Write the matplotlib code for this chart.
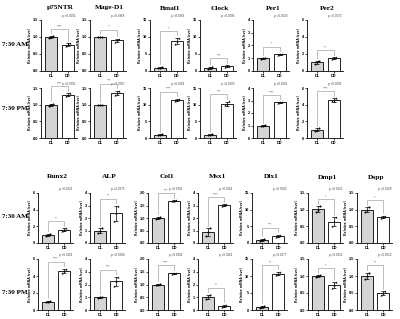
import numpy as np
import matplotlib
matplotlib.use("Agg")
import matplotlib.pyplot as plt

# ---------------- data ----------------
genes_top = ["p75NTR", "Mage-D1", "Bmal1", "Clock", "Per1", "Per2"]
genes_bottom = ["Runx2", "ALP", "Col1", "Msx1", "Dlx1", "Dmp1", "Dspp"]
group_labels = ["DL", "DD"]
row_labels = ["7:30 AM", "7:30 PM"]

ymax_top = [1.5, 1.5, 15, 15, 4, 6]
ystep_top = [0.5, 0.5, 5, 5, 1, 2]
ymax_bottom = [6, 4, 2.0, 4, 15, 1.5, 1.5]
ystep_bottom = [2, 1, 0.5, 1, 5, 0.5, 0.5]

# replicate values (DL, DD) for each gene
top_am_dl = [[0.97, 1.00, 1.03], [0.99, 1.00, 1.01], [0.8, 1.0, 1.2], [0.7, 0.9, 1.1], [0.95, 1.0, 1.05], [0.85, 1.0, 1.2]]
top_am_dd = [[0.74, 0.78, 0.81], [0.86, 0.90, 0.94], [8.0, 8.8, 9.7], [1.3, 1.5, 1.6], [1.25, 1.3, 1.35], [1.4, 1.5, 1.6]]
top_pm_dl = [[0.97, 1.0, 1.03], [1.0, 1.0, 1.0], [0.8, 1.0, 1.2], [0.8, 1.0, 1.2], [0.97, 1.0, 1.03], [0.85, 1.0, 1.2]]
top_pm_dd = [[1.27, 1.3, 1.34], [1.28, 1.35, 1.42], [11.2, 11.5, 11.8], [9.9, 10.1, 11.0], [2.78, 2.85, 2.9], [4.4, 4.45, 4.8]]
bot_am_dl = [[0.9, 1.0, 1.1], [0.8, 1.0, 1.2], [0.95, 1.0, 1.05], [0.6, 0.9, 1.2], [0.7, 1.0, 1.3], [0.92, 1.0, 1.1], [0.93, 1.0, 1.07]]
bot_am_dd = [[1.4, 1.6, 1.8], [1.8, 2.4, 3.0], [1.68, 1.7, 1.72], [3.0, 3.05, 3.1], [1.9, 2.2, 2.5], [0.5, 0.65, 0.78], [0.74, 0.78, 0.82]]
bot_pm_dl = [[0.9, 1.0, 1.1], [0.97, 1.0, 1.03], [0.97, 1.0, 1.03], [0.85, 1.0, 1.2], [0.7, 1.0, 1.3], [0.98, 1.0, 1.02], [0.9, 1.0, 1.1]]
bot_pm_dd = [[4.4, 4.6, 4.85], [1.9, 2.25, 2.6], [1.43, 1.45, 1.47], [0.2, 0.3, 0.4], [10.2, 10.7, 11.2], [0.65, 0.73, 0.82], [0.45, 0.5, 0.55]]

sig_top_am = ["****", "*", "*", "***", "*", "**"]
sig_top_pm = ["****", "***", "****", "***", "****", "****"]
sig_bot_am = ["**", "**", "***", "****", "***", "*", "*"]
sig_bot_pm = ["****", "***", "****", "**", "**", "*", "**"]
p_top_am = ["p <0.0001", "p =0.0366", "p =0.0166", "p =0.0006", "p =0.0130", "p =0.0072"]
p_top_pm = ["p <0.0001", "p =0.0007", "p <0.0001", "p =0.0003", "p <0.0001", "p <0.0001"]
p_bot_am = ["p =0.0021", "p =0.0075", "p =0.0001", "p <0.0001", "p =0.0003", "p =0.0122", "p =0.0228"]
p_bot_pm = ["p <0.0001", "p =0.0004", "p <0.0001", "p =0.0061", "p =0.0077", "p =0.0151", "p =0.0013"]

# ---------------- layout ----------------
W, H = 400, 319
fig = plt.figure(figsize=(4.0, 3.19), dpi=100)

SERIF = "Liberation Serif"
SANS = "Liberation Sans"

def frac_rect(left_px, zero_px, top_px, width_px):
    return [left_px / W, 1 - zero_px / H, width_px / W, (zero_px - top_px) / H]

def panel(rect, dl, dd, ymax, ystep, sig, ptxt):
    ax = fig.add_axes(rect)
    ax.patch.set_alpha(0)
    x = np.array([0, 1])
    means = [np.mean(dl), np.mean(dd)]
    sds = [np.std(dl, ddof=1), np.std(dd, ddof=1)]
    ax.bar(x, means, width=0.74, color=["#d4d4d4", "white"], edgecolor="black", linewidth=0.6, zorder=2)
    ax.errorbar(x, means, yerr=sds, fmt="none", ecolor="black", elinewidth=0.5, capsize=1.2, capthick=0.5, zorder=3)
    offs = [-0.12, 0.0, 0.12]
    for i, vals in enumerate([dl, dd]):
        ax.scatter(x[i] + np.array(offs), vals, s=2.2, color="black",
                   marker="o" if i == 0 else "^", zorder=4, linewidths=0)
    ax.set_xlim(-0.62, 1.55)
    ax.set_ylim(0, ymax)
    ticks = np.arange(0, ymax + ystep / 2, ystep)
    ax.set_yticks(ticks)
    if ystep < 1:
        ax.set_yticklabels([f"{t:.1f}" for t in ticks])
    else:
        ax.set_yticklabels([f"{int(t)}" for t in ticks])
    ax.set_xticks(x)
    ax.set_xticklabels(group_labels)
    for s in ["top", "right"]:
        ax.spines[s].set_visible(False)
    for s in ["left", "bottom"]:
        ax.spines[s].set_linewidth(0.6)
    ax.tick_params(axis="both", length=1.3, width=0.5, pad=0.8, labelsize=2.8)
    for lab in ax.get_xticklabels() + ax.get_yticklabels():
        lab.set_fontfamily(SANS)
        lab.set_fontweight("bold")
    ax.set_ylabel("Relative mRNA level", fontsize=2.5, fontweight="bold", family=SANS, labelpad=0.8)
    # bracket
    top = max(max(dl), max(dd))
    by = top + 0.14 * ymax
    ax.plot([0, 0, 1, 1], [max(dl) + 0.05 * ymax, by, by, max(dd) + 0.05 * ymax],
            color="#999999", lw=0.45, zorder=5, clip_on=False)
    ax.text(0.5, by + 0.01 * ymax, sig, ha="center", va="bottom", fontsize=2.6,
            color="#555555", family=SANS)
    ax.text(0.78, 1.04, ptxt, transform=ax.transAxes, ha="center", va="bottom",
            fontsize=2.2, color="#444444", family=SANS)
    return ax

top_lefts = [41, 90, 150, 200, 253, 307]
top_width = 36
bot_lefts = [38, 90, 148, 198, 252, 308, 357]
bot_width = 35

# top section
for j, g in enumerate(genes_top):
    panel(frac_rect(top_lefts[j], 71, 20, top_width), top_am_dl[j], top_am_dd[j],
          ymax_top[j], ystep_top[j], sig_top_am[j], p_top_am[j])
    panel(frac_rect(top_lefts[j], 138, 88, top_width), top_pm_dl[j], top_pm_dd[j],
          ymax_top[j], ystep_top[j], sig_top_pm[j], p_top_pm[j])
    cx = (top_lefts[j] + top_width * 0.55) / W
    fig.text(cx, 1 - 8 / H, g, ha="center", va="center", fontsize=5.3,
             fontweight="bold", family=SERIF)

for j, g in enumerate(genes_bottom):
    panel(frac_rect(bot_lefts[j], 243, 193, bot_width), bot_am_dl[j], bot_am_dd[j],
          ymax_bottom[j], ystep_bottom[j], sig_bot_am[j], p_bot_am[j])
    panel(frac_rect(bot_lefts[j], 310, 259, bot_width), bot_pm_dl[j], bot_pm_dd[j],
          ymax_bottom[j], ystep_bottom[j], sig_bot_pm[j], p_bot_pm[j])
    cx = (bot_lefts[j] + bot_width * 0.55) / W
    fig.text(cx, 1 - 177 / H, g, ha="center", va="center", fontsize=5.3,
             fontweight="bold", family=SERIF)

for ypx, lab in [(44, row_labels[0]), (108, row_labels[1]), (217, row_labels[0]), (292, row_labels[1])]:
    fig.text(15 / W, 1 - ypx / H, lab, ha="center", va="center", fontsize=5.0,
             fontweight="bold", family=SERIF)

fig.savefig("out.png", dpi=100)
